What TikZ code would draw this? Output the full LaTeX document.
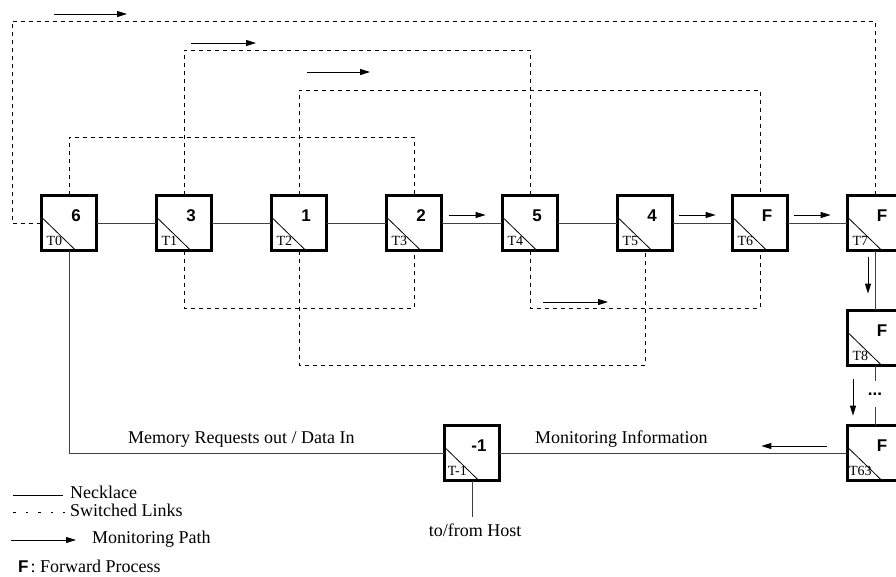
\documentclass[tikz,border=0pt]{standalone}
\usepackage{fontspec}
\setmainfont{Liberation Serif}
\newfontfamily\numfont{Liberation Sans}
\usetikzlibrary{arrows.meta,calc}

\tikzset{
  tile/.style={draw, line width=2.7pt, minimum size=55.3pt, inner sep=0pt, outer sep=0pt, fill=white},
  num/.style={font=\numfont\bfseries\fontsize{17}{17}\selectfont, inner sep=0pt},
  tlabel/.style={font=\fontsize{14}{14}\selectfont, inner sep=0pt, anchor=base},
  necklace/.style={line width=1pt, draw=black!75},
  switched/.style={line width=1pt, dash pattern=on 4pt off 4pt},
  monitor/.style={line width=1pt, -{Triangle[length=10pt,width=6pt]}},
  txt/.style={font=\fontsize{18}{18}\selectfont, inner sep=0pt},
}

\begin{document}
\begin{tikzpicture}[x=1pt, y=-1pt]
\clip (0,0) rectangle (896,576);

% tiles: name / x / y / process / thread id
\foreach \n/\x/\y/\v/\t in {t0/69/223/6/T0, t1/184/223/3/T1, t2/299/223/1/T2,
    t3/414/223/2/T3, t4/530/223/5/T4, t5/645/223/4/T5, t6/760/223/F/T6,
    t7/875/223/F/T7, t8/875/338/F/T8, t63/875/453/F/T63, tm1/472/453/-1/T-1} {
  \node[tile] (\n) at (\x,\y) {};
  \draw[line width=0.8pt] ([yshift=6pt]\n.west) -- ([xshift=7pt]\n.south);
  \node[num] (\n-v) at ($(\n.center)+(7,-7)$) {\v};
  \node[tlabel] (\n-t) at ($(\n.south west)+(13,-5)$) {\t};
}

% levels of the switched links
\coordinate (edgeL) at (12,0);
\coordinate (lvlA) at (0,21);
\coordinate (lvlB) at (0,50);
\coordinate (lvlC) at (0,90);
\coordinate (lvlD) at (0,137);
\coordinate (lvlE) at (0,308);
\coordinate (lvlF) at (0,365);

% necklace
\draw[necklace] (t0) -- (t1);
\draw[necklace] (t1) -- (t2);
\draw[necklace] (t2) -- (t3);
\draw[necklace] (t3) -- (t4);
\draw[necklace] (t4) -- (t5);
\draw[necklace] (t5) -- (t6);
\draw[necklace] (t6) -- (t7);
\draw[necklace] (t7) -- (t8);
\node[font=\numfont\bfseries\fontsize{17}{17}\selectfont, inner sep=0pt, minimum height=26pt] (dots) at (875,394) {...};
\draw[necklace] (t8) -- (dots);
\draw[necklace] (dots) -- (t63);
\draw[necklace] (t0.south) |- (tm1.west);
\draw[necklace] (tm1) -- (t63);
\node[txt, anchor=base, inner ysep=6pt] (host) at (475,536) {to/from Host};
\draw[necklace] (tm1.south) -- (tm1.south |- host.north);

% switched links
\draw[switched] (t0.west) -- (t0.west -| edgeL) |- (t7.north |- lvlA) -- (t7.north);
\draw[switched] (t1.north) |- (t4.north |- lvlB) -- (t4.north);
\draw[switched] (t2.north) |- (t6.north |- lvlC) -- (t6.north);
\draw[switched] (t0.north) |- (t3.north |- lvlD) -- (t3.north);
\draw[switched] (t1.south) |- (t3.south |- lvlE) -- (t3.south);
\draw[switched] (t4.south) |- (t6.south |- lvlE) -- (t6.south);
\draw[switched] (t2.south) |- (t5.south |- lvlF) -- (t5.south);

% monitoring path
\draw[monitor] ($(t0.north |- lvlA)+(-15,-7)$) -- ++(73,0);
\draw[monitor] ($(t1.north |- lvlB)+(7,-7)$) -- ++(65,0);
\draw[monitor] ($(t2.north |- lvlC)+(8,-18)$) -- ++(63,0);
\draw[monitor] ($(t4.south |- lvlE)+(13,-6)$) -- ++(65,0);
\draw[monitor] ($(t3.east)+(7,-8)$) -- ++(37,0);
\draw[monitor] ($(t5.east)+(6,-8)$) -- ++(37,0);
\draw[monitor] ($(t6.east)+(6,-8)$) -- ++(37,0);
\draw[monitor] ($(t7.south)+(-7,6)$) -- ++(0,37);
\draw[monitor] ($(t8.south)+(-22,13)$) -- ++(0,37);
\draw[monitor] ($(t63.west)+(-20,-7)$) -- ++(-66,0);

% link captions
\node[txt, anchor=base west] (memtxt) at (128,443) {Memory Requests out / Data In};
\node[txt, anchor=base west] (montxt) at (535,443) {Monitoring Information};

% legend
\coordinate (lgA0) at (13,495);
\coordinate (lgA1) at (63,495);
\draw[line width=1pt] (lgA0) -- (lgA1);
\node[txt, anchor=base west] (lg1) at (70,498) {Necklace};
\coordinate (lgB0) at (13,512);
\coordinate (lgB1) at (65,512);
\draw[line width=1pt, dash pattern=on 2.5pt off 10pt] (lgB0) -- (lgB1);
\node[txt, anchor=base west] (lg2) at (70,516) {Switched Links};
\coordinate (lgC0) at (11,540);
\coordinate (lgC1) at (76,540);
\draw[monitor] (lgC0) -- (lgC1);
\node[txt, anchor=base west] (lg3) at (92,543) {Monitoring Path};
\node[txt, anchor=base west] (lg4) at (18,572) {{\numfont\bfseries\fontsize{17}{17}\selectfont F}\kern2pt: Forward Process};
\end{tikzpicture}
\end{document}
